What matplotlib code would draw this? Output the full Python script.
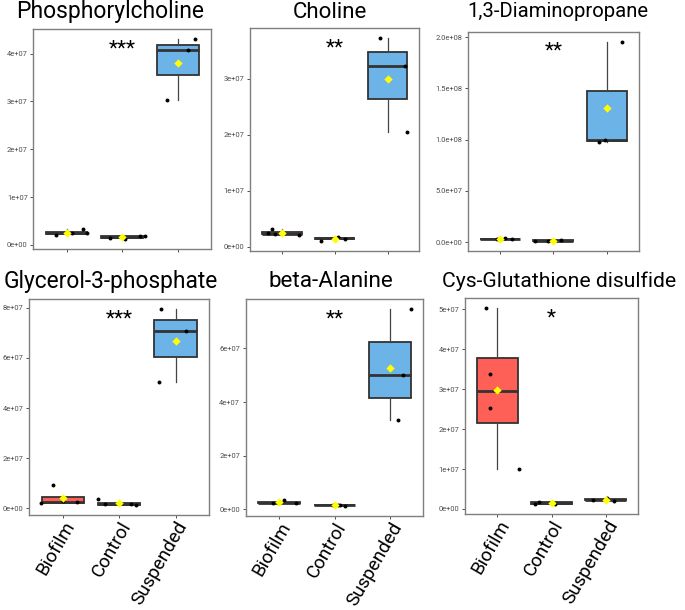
import matplotlib
matplotlib.use("Agg")
import matplotlib.pyplot as plt
import numpy as np

plt.rcParams['font.family'] = ['Roboto', 'DejaVu Sans']

# ---------------- data ----------------
GROUPS = ['Biofilm', 'Control', 'Suspended']
TITLES = ['Phosphorylcholine', 'Choline', '1,3-Diaminopropane',
          'Glycerol-3-phosphate', 'beta-Alanine', 'Cys-Glutathione disulfide']
STARS = ['***', '**', '**', '***', '**', '*']

phos_biofilm = [2.10e6, 2.60e6, 3.26e6, 2.43e6]
phos_control = [1.45e6, 1.18e6, 1.80e6, 1.87e6]
phos_suspended = [3.03e7, 4.07e7, 4.30e7]

chol_biofilm = [2.44e6, 3.20e6, 2.26e6, 2.08e6]
chol_control = [1.12e6, 1.72e6, 1.45e6, 1.55e6]
chol_suspended = [3.72e7, 3.23e7, 2.05e7]

dap_biofilm = [3.3e6, 3.6e6, 3.0e6, 2.8e6]
dap_control = [1.6e6, 1.5e6, 1.9e6, 1.4e6]
dap_suspended = [0.976e8, 0.998e8, 1.957e8]

g3p_biofilm = [9.4e6, 2.2e6, 3.0e6, 2.4e6]
g3p_control = [3.6e6, 1.8e6, 1.6e6, 1.3e6]
g3p_suspended = [7.94e7, 7.06e7, 5.02e7]

bala_biofilm = [3.4e6, 2.1e6, 2.2e6, 2.3e6]
bala_control = [1.7e6, 1.2e6, 1.5e6, 1.6e6]
bala_suspended = [7.47e7, 5.00e7, 3.32e7]

cys_biofilm = [5.03e7, 3.37e7, 2.54e7, 1.00e7]
cys_control = [1.20e6, 1.75e6, 1.35e6, 1.60e6]
cys_suspended = [2.3e6, 2.7e6, 2.0e6]

YTICKS = [
    [0, 1e7, 2e7, 3e7, 4e7],
    [0, 1e7, 2e7, 3e7],
    [0, 5e7, 1e8, 1.5e8, 2e8],
    [0, 2e7, 4e7, 6e7, 8e7],
    [0, 2e7, 4e7, 6e7],
    [0, 1e7, 2e7, 3e7, 4e7, 5e7],
]
YTICKLABELS = [
    ['0e+00', '1e+07', '2e+07', '3e+07', '4e+07'],
    ['0e+00', '1e+07', '2e+07', '3e+07'],
    ['0.0e+00', '5.0e+07', '1.0e+08', '1.5e+08', '2.0e+08'],
    ['0e+00', '2e+07', '4e+07', '6e+07', '8e+07'],
    ['0e+00', '2e+07', '4e+07', '6e+07'],
    ['0e+00', '1e+07', '2e+07', '3e+07', '4e+07', '5e+07'],
]

# ---------------- layout / style ----------------
PANEL_DATA = [
    [phos_biofilm, phos_control, phos_suspended],
    [chol_biofilm, chol_control, chol_suspended],
    [dap_biofilm, dap_control, dap_suspended],
    [g3p_biofilm, g3p_control, g3p_suspended],
    [bala_biofilm, bala_control, bala_suspended],
    [cys_biofilm, cys_control, cys_suspended],
]
# horizontal jitter offsets of the points (layout only)
JITTER = [
    [[-0.20, 0.10, 0.30, 0.36], [-0.21, 0.05, 0.33, 0.41], [-0.19, 0.19, 0.32]],
    [[-0.26, -0.19, -0.12, 0.32], [-0.25, 0.06, 0.20, 0.00], [-0.15, 0.33, 0.36]],
    [[-0.05, 0.09, 0.22, 0.00], [-0.35, -0.10, 0.14, 0.00], [-0.14, -0.03, 0.29]],
    [[-0.17, -0.39, 0.00, 0.25], [-0.38, -0.25, 0.20, 0.30], [-0.25, 0.19, -0.30]],
    [[0.09, 0.30, -0.10, 0.00], [0.06, 0.19, -0.02, 0.10], [0.37, 0.23, 0.15]],
    [[-0.21, -0.14, -0.13, 0.39], [-0.30, -0.24, 0.06, 0.00], [-0.23, 0.02, 0.15]],
]
# axes rectangles in pixels: left, top, right, bottom
RECTS = [
    (33.3, 29.3, 211.0, 249.3),
    (250.0, 28.3, 419.3, 250.7),
    (467.7, 31.7, 639.0, 250.7),
    (29.3, 299.3, 209.3, 515.0),
    (245.7, 299.3, 423.3, 515.7),
    (465.0, 298.3, 638.3, 514.0),
]
TITLE_X = [110.5, 330.0, 558.0, 110.8, 330.5, 559.0]
TITLE_Y = [18.3, 18.3, 16.7, 287.8, 287.3, 287.3]
TITLE_SIZE = [16.5, 16.0, 14.6, 16.4, 16.2, 15.2]
FILLS = ['#FE5F57', '#6E6E6E', '#6CB4E7']

W, H = 685, 610
fig = plt.figure(figsize=(W / 100, H / 100), dpi=100)

for i in range(6):
    l, t, r, b = RECTS[i]
    ax = fig.add_axes([l / W, 1 - b / H, (r - l) / W, (b - t) / H])
    data = PANEL_DATA[i]
    pos = [1, 2, 3]
    bp = ax.boxplot(data, positions=pos, widths=0.75, patch_artist=True,
                    showfliers=False, showcaps=False, whis=1.5,
                    medianprops=dict(color='#333333', linewidth=2.0),
                    boxprops=dict(edgecolor='#333333', linewidth=1.3),
                    whiskerprops=dict(color='#444444', linewidth=0.9),
                    zorder=2)
    for patch, fc in zip(bp['boxes'], FILLS):
        patch.set_facecolor(fc)
    allv = []
    for g in range(3):
        vals = np.array(data[g])
        xs = pos[g] + np.array(JITTER[i][g])
        ax.scatter(xs, vals, s=8, color='black', zorder=3, linewidths=0)
        ax.scatter([pos[g]], [vals.mean()], s=18, marker='D', color='#FFFF00',
                   zorder=4, linewidths=0)
        allv.extend(vals)
    lo, hi = min(allv), max(allv)
    span = hi - lo
    ax.set_ylim(lo - 0.05 * span, hi + 0.05 * span)
    ax.set_xlim(0.4, 3.6)
    ax.set_yticks(YTICKS[i])
    ax.set_yticklabels(YTICKLABELS[i])
    ax.set_xticks(pos)
    if i >= 3:
        ax.set_xticklabels(GROUPS, rotation=60, ha='right', va='top',
                           rotation_mode='anchor', fontsize=13.5, color='black')
    else:
        ax.set_xticklabels([])
    ax.tick_params(axis='y', length=2.5, width=0.6, color='#333333',
                   labelsize=5.4, labelcolor='#4D4D4D', pad=1.5)
    ax.tick_params(axis='x', length=2.5, width=0.6, color='#333333', pad=0.0)
    for sp in ax.spines.values():
        sp.set_color('#7F7F7F')
        sp.set_linewidth(1.0)
    ax.annotate(STARS[i], xy=(2, hi), xycoords='data', xytext=(0, 0),
                textcoords='offset points', ha='center', va='top',
                fontsize=15, color='black')
    fig.text(TITLE_X[i] / W, 1 - TITLE_Y[i] / H, TITLES[i], ha='center',
             va='baseline', fontsize=TITLE_SIZE[i], color='black')

fig.savefig('out.png', dpi=100)
